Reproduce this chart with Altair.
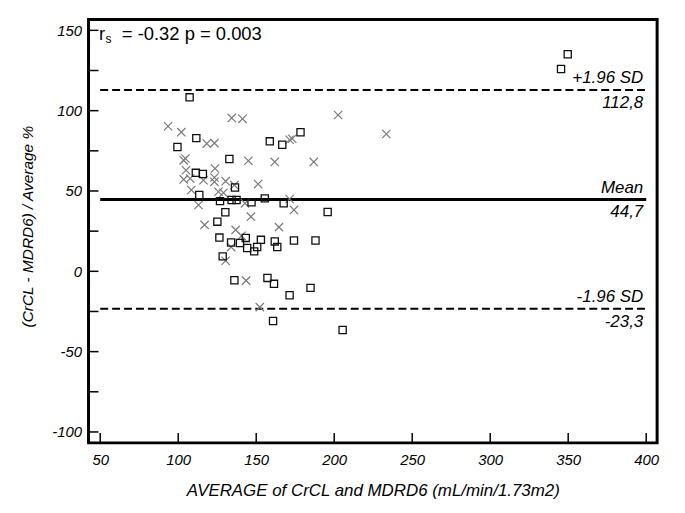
import altair as alt
import pandas as pd

# ---- data ----
sq_x = [107.3, 111.6, 99.5, 111.3, 115.8, 113.5, 132.8, 136.4, 126.8, 134.2,
        137.4, 130.2, 125.1, 126.4, 133.9, 139.6, 143.3, 144.2, 148.7, 150.6,
        153.0, 161.9, 163.5, 174.2, 188.0, 128.5, 136.0, 157.2, 161.4, 171.4,
        184.8, 160.8, 205.4, 147.0, 155.5, 167.6, 195.8, 178.4, 158.7, 166.7,
        349.7, 345.4]
sq_y = [108.3, 82.9, 77.4, 61.3, 60.6, 47.5, 69.9, 52.2, 43.7, 44.4,
        44.4, 36.8, 30.9, 21.0, 17.9, 17.6, 20.8, 14.5, 12.4, 15.1,
        19.6, 18.6, 15.1, 19.2, 19.2, 9.3, -5.6, -4.1, -7.8, -14.9,
        -10.3, -30.9, -36.5, 42.9, 45.4, 42.3, 36.9, 86.6, 80.9, 78.8,
        135.1, 125.9]

cr_x = [93.5, 102.0, 118.3, 123.2, 103.5, 104.6, 105.0, 103.5, 107.7, 116.2,
        123.2, 123.2, 123.6, 108.4, 134.3, 141.2, 145.0, 130.4, 136.0, 125.8,
        129.0, 113.0, 142.8, 116.9, 136.8, 133.9, 130.4, 143.5, 202.5, 171.4,
        173.1, 161.9, 186.9, 151.2, 171.4, 174.2, 146.6, 164.6, 140.6, 152.3,
        233.4]
cr_y = [90.3, 86.6, 79.5, 79.8, 69.1, 70.2, 62.9, 57.2, 57.8, 56.7,
        58.4, 55.7, 64.0, 50.6, 95.5, 94.9, 68.8, 56.1, 53.6, 49.5,
        48.9, 41.3, 42.3, 28.9, 25.8, 15.1, 6.6, -5.8, 97.3, 81.9,
        82.5, 68.1, 68.1, 54.3, 45.0, 38.2, 34.0, 27.5, 22.1, -22.3,
        85.5]

line_names = ["+1.96 SD", "Mean", "-1.96 SD"]
line_values = [112.8, 44.7, -23.3]
line_labels = ["112,8", "44,7", "-23,3"]
line_start = [50, 50, 50]
line_end = [400, 400, 400]

x_ticks = [50, 100, 150, 200, 250, 300, 350, 400]
y_ticks = [-100, -75, -50, -25, 0, 25, 50, 75, 100, 125, 150]
x_domain = [42.5, 407]
y_domain = [-106.8, 156.8]

stat_r = "r"
stat_sub = "s"
stat_rest = "= -0.32 p = 0.003"

x_title = "AVERAGE of CrCL and MDRD6 (mL/min/1.73m2)"
y_title = "(CrCL - MDRD6) / Average %"

# ---- layout ----
W, H = 572, 426
FONT = "Liberation Sans"

sq_df = pd.DataFrame({"x": sq_x, "y": sq_y})
cr_df = pd.DataFrame({"x": cr_x, "y": cr_y})
line_df = pd.DataFrame({"name": line_names, "v": line_values, "lab": line_labels,
                        "x1": line_start, "x2": line_end})
xt_df = pd.DataFrame({"t": x_ticks})
yt_df = pd.DataFrame({"t": y_ticks})

xs = alt.Scale(domain=x_domain, nice=False, zero=False)
ys = alt.Scale(domain=y_domain, nice=False, zero=False)

x_axis = alt.Axis(values=x_ticks, tickSize=0, domain=False, grid=False,
                  labelExpr="'' + datum.value",
                  labelFont=FONT, labelFontStyle="italic", labelFontSize=15,
                  labelColor="#000", labelPadding=10, labelFlush=False,
                  title=x_title, titleFont=FONT, titleFontStyle="italic",
                  titleFontWeight="normal", titleFontSize=17, titleColor="#000",
                  titleBaseline="middle", titleY=48)
y_axis = alt.Axis(values=y_ticks, tickSize=0, domain=False, grid=False,
                  labelExpr="datum.value % 50 == 0 ? '' + datum.value : ''",
                  labelFont=FONT, labelFontStyle="italic", labelFontSize=15,
                  labelColor="#000", labelPadding=7, labelFlush=False,
                  title=y_title, titleFont=FONT, titleFontStyle="italic",
                  titleFontWeight="normal", titleFontSize=15.5, titleColor="#000",
                  titleBaseline="middle", titleX=-61, titleY=208, titleAngle=-90)

squares = alt.Chart(sq_df).mark_point(shape="square", filled=False, size=52,
                                      color="#111", strokeWidth=1.3, opacity=1).encode(
    x=alt.X("x:Q", scale=xs, axis=x_axis),
    y=alt.Y("y:Q", scale=ys, axis=y_axis),
)

crosses = alt.Chart(cr_df).mark_point(shape="M-1,-1L1,1M1,-1L-1,1", filled=False,
                                      size=70, color="#7a7a7a", strokeWidth=1.2,
                                      opacity=1).encode(
    x=alt.X("x:Q", scale=xs),
    y=alt.Y("y:Q", scale=ys),
)

mean_line = alt.Chart(line_df).transform_filter(alt.datum.name == "Mean").mark_rule(
    color="#000", strokeWidth=3).encode(
    x=alt.X("x1:Q", scale=xs), x2="x2:Q", y=alt.Y("v:Q", scale=ys))

sd_lines = alt.Chart(line_df).transform_filter(alt.datum.name != "Mean").mark_rule(
    color="#000", strokeWidth=2, strokeDash=[8, 4]).encode(
    x=alt.X("x1:Q", scale=xs), x2="x2:Q", y=alt.Y("v:Q", scale=ys))

name_text = alt.Chart(line_df).mark_text(
    align="right", baseline="alphabetic", dx=-3, dy=-7, font=FONT,
    fontStyle="italic", fontSize=17, color="#000").encode(
    x=alt.X("x2:Q", scale=xs), y=alt.Y("v:Q", scale=ys), text="name:N")

val_text = alt.Chart(line_df).mark_text(
    align="right", baseline="top", dx=-3, dy=5, font=FONT,
    fontStyle="italic", fontSize=17, color="#000").encode(
    x=alt.X("x2:Q", scale=xs), y=alt.Y("v:Q", scale=ys), text="lab:N")

xticks = alt.Chart(xt_df).mark_rule(color="#000", strokeWidth=1.5).encode(
    x=alt.X("t:Q", scale=xs), y=alt.value(H), y2=alt.value(H - 10))

yticks = alt.Chart(yt_df).mark_rule(color="#000", strokeWidth=1.5).encode(
    y=alt.Y("t:Q", scale=ys), x=alt.value(0), x2=alt.value(10))

stat_df = pd.DataFrame({"a": [stat_r], "b": [stat_sub], "c": [stat_rest]})
stat1 = alt.Chart(stat_df).mark_text(align="left", baseline="alphabetic", font=FONT,
                                     fontSize=18.5, color="#000").encode(
    text="a:N", x=alt.value(10.5), y=alt.value(21))
stat2 = alt.Chart(stat_df).mark_text(align="left", baseline="alphabetic", font=FONT,
                                     fontSize=12, color="#000").encode(
    text="b:N", x=alt.value(17), y=alt.value(24))
stat3 = alt.Chart(stat_df).mark_text(align="left", baseline="alphabetic", font=FONT,
                                     fontSize=18.5, color="#000").encode(
    text="c:N", x=alt.value(33.5), y=alt.value(21))

chart = alt.layer(
    sd_lines, mean_line, crosses, squares, name_text, val_text,
    xticks, yticks, stat1, stat2, stat3
).properties(
    width=W, height=H,
    autosize=alt.AutoSizeParams(type="none"),
    padding={"left": 81, "top": 10, "right": 20, "bottom": 60},
    background="white",
).configure_view(stroke="#000", strokeWidth=3)

chart.save("out.html", embed_options={"renderer": "svg", "actions": False})
